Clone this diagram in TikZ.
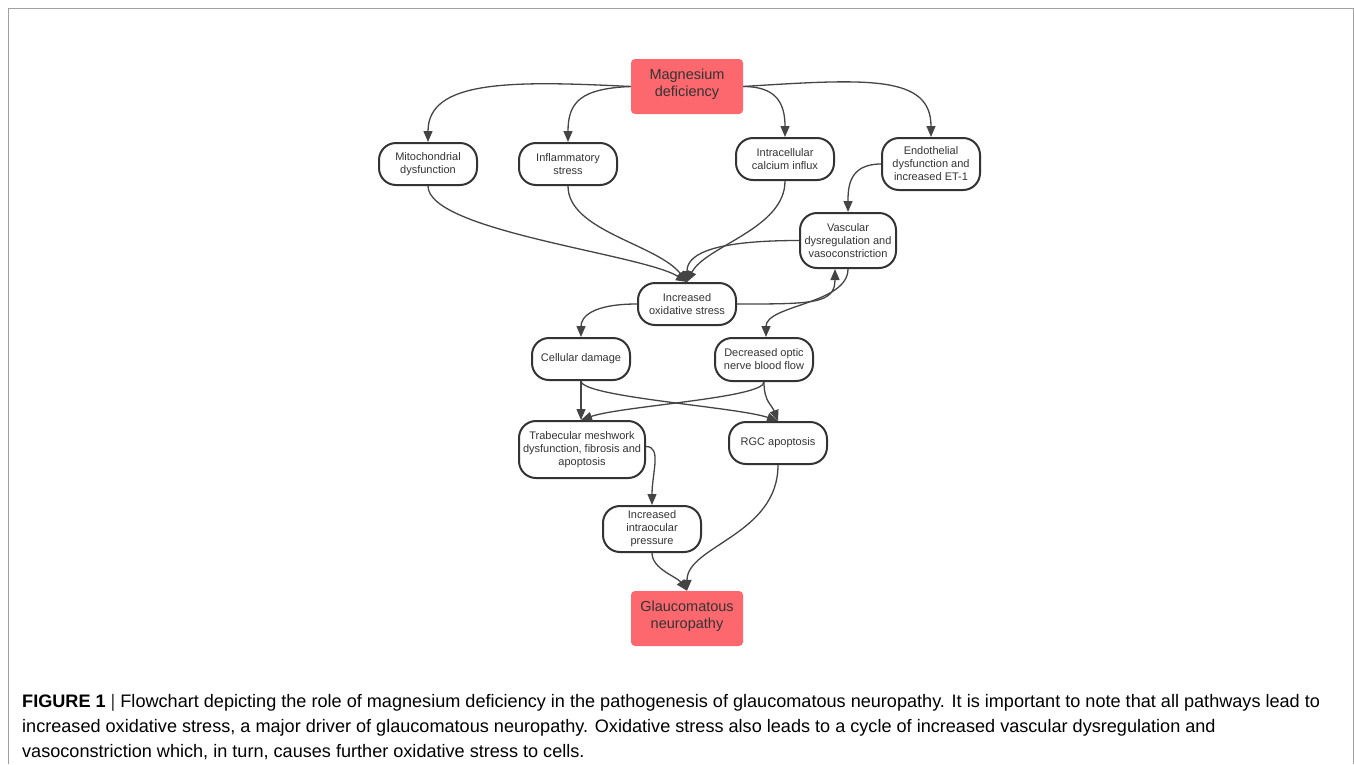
\documentclass[tikz,border=0pt]{standalone}
\usepackage{fontspec}
\setmainfont{Liberation Sans}
\usetikzlibrary{arrows.meta}
\definecolor{redfill}{RGB}{253,104,110}
\definecolor{edgecol}{RGB}{68,68,68}
\definecolor{boxcol}{RGB}{51,51,51}
\definecolor{framecol}{RGB}{160,160,160}
\tikzset{
  pill/.style={draw=boxcol, line width=2pt, rounded corners=17pt, minimum width=98pt,
    minimum height=42pt, inner sep=0pt, align=center, text=boxcol,
    font=\fontsize{11}{13}\selectfont},
  redbox/.style={fill=redfill, rounded corners=4pt, minimum width=112pt, minimum height=55pt,
    inner sep=0pt, align=center, text=boxcol, font=\fontsize{14.5}{17}\selectfont,
    text depth=7.5pt},
  arr/.style={draw=edgecol, line width=1.3pt, -{Triangle[length=11pt,width=9pt]}},
}
\begin{document}
\begin{tikzpicture}[x=1pt,y=-1pt]
\useasboundingbox (0,0) rectangle (1354,764);
\draw[framecol, line width=1pt] (8,764) -- (8,8) -- (1353,8) -- (1353,764);

\node[redbox] (mg) at (687,86.5) {Magnesium\\deficiency};
\node[pill] (mito) at (428,164) {Mitochondrial\\dysfunction};
\node[pill] (infl) at (568,164) {Inflammatory\\stress};
\node[pill] (calc) at (785,159) {Intracellular\\calcium influx};
\node[pill, minimum height=52pt] (endo) at (931,164) {Endothelial\\dysfunction and\\increased ET-1};
\node[pill, minimum width=96pt, minimum height=55pt] (vasc) at (848,240.5) {Vascular\\dysregulation and\\vasoconstriction};
\node[pill] (ox) at (687,304) {Increased\\oxidative stress};
\node[pill] (cell) at (581,359) {Cellular damage};
\node[pill, minimum height=43pt] (dec) at (764,359.5) {Decreased optic\\nerve blood flow};
\node[pill, minimum width=126pt, minimum height=57pt] (trab) at (582,449.5) {Trabecular meshwork\\dysfunction, fibrosis and\\apoptosis};
\node[pill] (rgc) at (778,443) {RGC apoptosis};
\node[pill, minimum height=46pt] (iop) at (652,529) {Increased\\intraocular\\pressure};
\node[redbox] (gl) at (687,618.5) {Glaucomatous\\neuropathy};

% from magnesium deficiency
\draw[arr] (mg.west) .. controls +(-120,-6) and +(0,-62) .. (mito.north);
\draw[arr] (mg.west) .. controls +(-50,2) and +(0,-40) .. (infl.north);
\draw[arr] (mg.east) .. controls +(32,0) and +(0,-35) .. (calc.north);
\draw[arr] (mg.east) .. controls +(125,-8) and +(0,-62) .. (endo.north);
\draw[arr] (endo.west) .. controls +(-32,0) and +(0,-25) .. (vasc.north);

% into oxidative stress
\draw[arr] (mito.south) .. controls +(0,45) and +(-45,-28) .. (ox.north);
\draw[arr] (infl.south) .. controls +(0,45) and +(-30,-38) .. (ox.north);
\draw[arr] (calc.south) .. controls +(0,48) and +(18,-36) .. (ox.north);
\draw[arr] (vasc.west) .. controls +(-95,0) and +(0,-25) .. (ox.north);

% cycle
\draw[arr] (ox.east) .. controls +(75,0) and +(0,35) .. ([xshift=-13pt]vasc.south);
\draw[arr] (vasc.south) .. controls +(0,35) and +(0,-32) .. ([xshift=2pt]dec.north);

\draw[arr] (ox.west) .. controls +(-45,0) and +(0,-20) .. (cell.north);

% crossing
\draw[arr] (cell.south) -- (cell.south |- trab.north);
\draw[arr] (cell.south) .. controls +(0,16) and +(-40,-14) .. (rgc.north);
\draw[arr] (dec.south) .. controls +(0,16) and +(40,-14) .. (cell.south |- trab.north);
\draw[arr] (dec.south) .. controls +(0,20) and +(-6,-16) .. (rgc.north);

% lower part
\draw[arr] ([yshift=3pt]trab.east) .. controls +(16,0) and +(0,-32) .. (iop.north);
\draw[arr] (iop.south) .. controls +(0,16) and +(-10,-14) .. (gl.north);
\draw[arr] (rgc.south) .. controls +(0,70) and +(0,-45) .. (gl.north);

\node[anchor=base west, align=left, inner sep=0pt, text=black,
  font=\fontsize{18.1}{24.8}\selectfont] (cap) at (22,757)
  {\textbf{FIGURE 1} {\color{boxcol}|} Flowchart depicting the role of magnesium deficiency in the pathogenesis of glaucomatous neuropathy. It is important to note that all pathways lead to\\
  increased oxidative stress, a major driver of glaucomatous neuropathy. Oxidative stress also leads to a cycle of increased vascular dysregulation and\\
  vasoconstriction which, in turn, causes further oxidative stress to cells.};
\end{tikzpicture}
\end{document}
